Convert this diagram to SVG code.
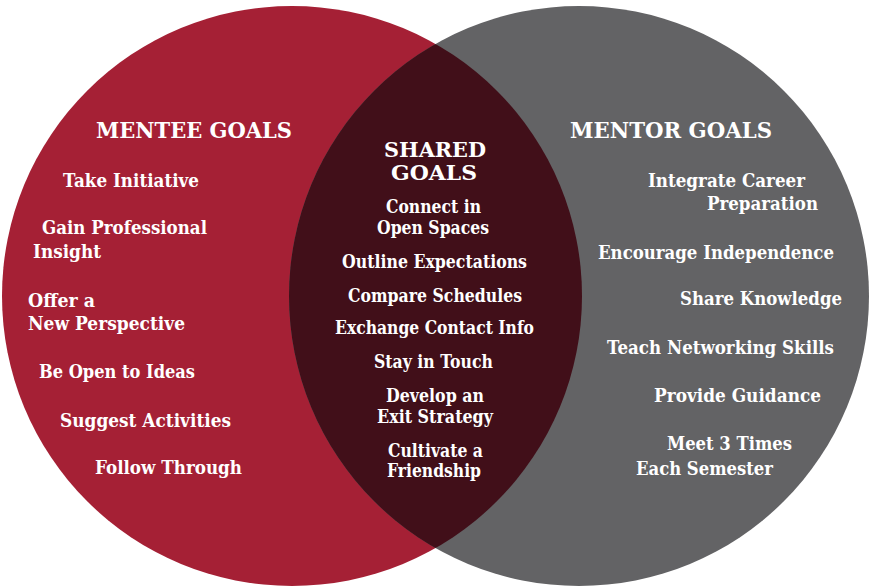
<svg xmlns="http://www.w3.org/2000/svg" width="870" height="587" viewBox="0 0 870 587">
<style>
text{font-family:"DejaVu Serif","Liberation Serif",serif;font-weight:bold;fill:#ffffff;font-size:19px}
.h{font-size:22px}
.hc{font-size:20px;text-anchor:middle}
.c{text-anchor:middle}
</style>
<defs>
<clipPath id="clipL"><circle cx="292" cy="296" r="290"/></clipPath>
</defs>
<rect width="870" height="587" fill="#ffffff"/>
<g id="mentee-circle"><circle cx="292" cy="296" r="290" fill="#a52035"/></g>
<g id="mentor-circle"><circle cx="579" cy="296" r="290" fill="#636365"/></g>
<g id="shared-area"><circle cx="579" cy="296" r="290" fill="#410f19" clip-path="url(#clipL)"/></g>
<g id="connectors"></g>
<g id="mentee-goals">
<text class="h" x="96" y="138" textLength="196" lengthAdjust="spacingAndGlyphs">MENTEE GOALS</text>
<text x="63" y="187" textLength="136" lengthAdjust="spacingAndGlyphs">Take Initiative</text>
<text x="42" y="234" textLength="165" lengthAdjust="spacingAndGlyphs">Gain Professional</text>
<text x="33" y="258" textLength="68" lengthAdjust="spacingAndGlyphs">Insight</text>
<text x="28" y="307" textLength="67" lengthAdjust="spacingAndGlyphs">Offer a</text>
<text x="28" y="330" textLength="157" lengthAdjust="spacingAndGlyphs">New Perspective</text>
<text x="39" y="378" textLength="156" lengthAdjust="spacingAndGlyphs">Be Open to Ideas</text>
<text x="60" y="427" textLength="171" lengthAdjust="spacingAndGlyphs">Suggest Activities</text>
<text x="95" y="474" textLength="147" lengthAdjust="spacingAndGlyphs">Follow Through</text>
</g>
<g id="shared-goals">
<text class="hc" x="435" y="157" textLength="102" lengthAdjust="spacingAndGlyphs">SHARED</text>
<text class="hc" x="434" y="180" textLength="86" lengthAdjust="spacingAndGlyphs">GOALS</text>
<text class="c" x="433.5" y="213" textLength="95" lengthAdjust="spacingAndGlyphs">Connect in</text>
<text class="c" x="433" y="234" textLength="112" lengthAdjust="spacingAndGlyphs">Open Spaces</text>
<text class="c" x="434.5" y="268" textLength="185" lengthAdjust="spacingAndGlyphs">Outline Expectations</text>
<text class="c" x="435" y="302" textLength="174" lengthAdjust="spacingAndGlyphs">Compare Schedules</text>
<text class="c" x="434.5" y="334" textLength="199" lengthAdjust="spacingAndGlyphs">Exchange Contact Info</text>
<text class="c" x="433.5" y="368" textLength="119" lengthAdjust="spacingAndGlyphs">Stay in Touch</text>
<text class="c" x="435" y="402" textLength="98" lengthAdjust="spacingAndGlyphs">Develop an</text>
<text class="c" x="435" y="423" textLength="116" lengthAdjust="spacingAndGlyphs">Exit Strategy</text>
<text class="c" x="435.5" y="457" textLength="95" lengthAdjust="spacingAndGlyphs">Cultivate a</text>
<text class="c" x="434" y="477" textLength="94" lengthAdjust="spacingAndGlyphs">Friendship</text>
</g>
<g id="mentor-goals">
<text class="h" x="570" y="138" textLength="202" lengthAdjust="spacingAndGlyphs">MENTOR GOALS</text>
<text x="648" y="187" textLength="157" lengthAdjust="spacingAndGlyphs">Integrate Career</text>
<text x="707" y="210" textLength="111" lengthAdjust="spacingAndGlyphs">Preparation</text>
<text x="598" y="259" textLength="236" lengthAdjust="spacingAndGlyphs">Encourage Independence</text>
<text x="680" y="305" textLength="162" lengthAdjust="spacingAndGlyphs">Share Knowledge</text>
<text x="607" y="354" textLength="227" lengthAdjust="spacingAndGlyphs">Teach Networking Skills</text>
<text x="654" y="402" textLength="167" lengthAdjust="spacingAndGlyphs">Provide Guidance</text>
<text x="667" y="450" textLength="125" lengthAdjust="spacingAndGlyphs">Meet 3 Times</text>
<text x="636" y="475" textLength="137" lengthAdjust="spacingAndGlyphs">Each Semester</text>
</g>
</svg>
